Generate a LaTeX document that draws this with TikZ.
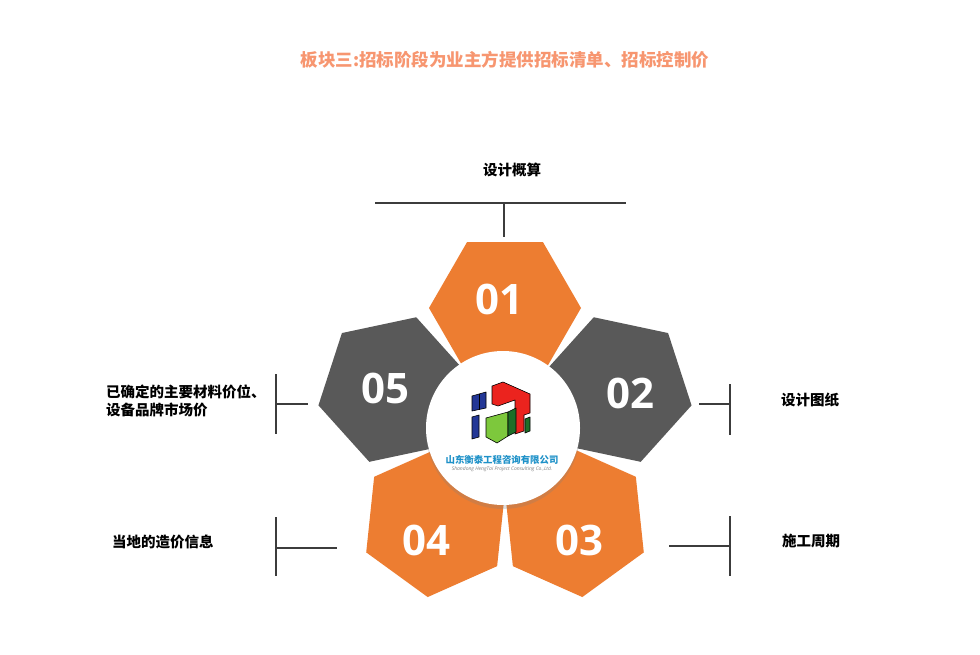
\documentclass[tikz,border=0pt]{standalone}
\usepackage{fontspec}
\usepackage{xcolor}
\usetikzlibrary{shadows}
\newfontfamily\cjk{Noto Sans CJK SC}
\newfontfamily\numfont{Open Sans}
\definecolor{hexorange}{RGB}{237,125,49}
\definecolor{hexgray}{RGB}{89,89,89}
\definecolor{titlecol}{RGB}{247,150,112}
\definecolor{brkcol}{RGB}{60,60,60}
\definecolor{logoblue}{RGB}{35,55,150}
\definecolor{logored}{RGB}{235,35,30}
\definecolor{logogreen}{RGB}{125,200,60}
\definecolor{logodark}{RGB}{30,110,40}
\definecolor{namecol}{RGB}{30,145,200}

\begin{document}
\begin{tikzpicture}[x=1pt, y=1pt,
    num/.style={text=white, inner sep=0pt, font=\numfont\bfseries\fontsize{42}{42}\selectfont},
    lbl/.style={inner sep=0pt, font=\cjk\bfseries\fontsize{14.5}{18}\selectfont},
    brk/.style={draw=brkcol, line width=2.2pt},
    logoline/.style={draw=black, line width=0.6pt, line join=round}]
  \useasboundingbox[fill=white] (0,0) rectangle (980,-655);

  \node[inner sep=0pt, text=titlecol, font=\cjk\bfseries\fontsize{17.5}{20}\selectfont] (title) at (505,-60) {板块三:招标阶段为业主方提供招标清单、招标控制价};

  % five hexagons round the hub
  \coordinate (hub) at (505,-426);
  \foreach \ang/\col in {90/hexorange, 18/hexgray, -54/hexorange, -126/hexorange, 162/hexgray}
    \fill[\col, shift={(hub)}, shift={(\ang:118)}, rotate=\ang-90]
      (0:76) -- (60:76) -- (120:76) -- (180:76) -- (240:76) -- (300:76) -- cycle;

  \node[num] (n1) at (499,-299) {01};
  \node[num] (n2) at (630,-393) {02};
  \node[num] (n3) at (579,-540) {03};
  \node[num] (n4) at (426,-540) {04};
  \node[num] (n5) at (385,-388) {05};

  % logo in the middle
  \node[circle, fill=white, minimum size=154pt, inner sep=0pt,
        drop shadow={shadow xshift=0pt, shadow yshift=-4pt, opacity=0.25}] (logo) at (503,-428) {};
  \filldraw[logoline, fill=logoblue] (472,-396) -- (486,-392) -- (486,-408) -- (472,-411) -- cycle;
  \draw[logoline] (479,-394) -- (479,-409.5);
  \filldraw[logoline, fill=logoblue] (472,-417) -- (479,-415) -- (479,-437) -- (472,-439) -- cycle;
  \filldraw[logoline, fill=logored] (492,-386) -- (503,-382) -- (530,-394) -- (530,-413) -- (524,-415)
    -- (524,-431) -- (515,-434) -- (515,-400) -- (498,-406) -- (492,-404) -- cycle;
  \filldraw[logoline, fill=logodark] (525,-419) -- (530,-417) -- (530,-431) -- (525,-433) -- cycle;
  \filldraw[logoline, fill=logogreen] (486,-418) -- (508,-412) -- (508,-436) -- (497,-443) -- (486,-437) -- cycle;
  \filldraw[logoline, fill=logodark] (508,-412) -- (516,-408) -- (516,-432) -- (508,-436) -- cycle;
  \node[inner sep=0pt, text=namecol, font=\cjk\bfseries\fontsize{9.4}{10}\selectfont] (cname) at (502,-460) {山东衡泰工程咨询有限公司};
  \node[inner sep=0pt, text=gray, font=\numfont\itshape\fontsize{5}{6}\selectfont] (ename) at (502,-469) {Shandong HengTai Project Consulting Co.,Ltd.};

  % labels and their brackets
  \node[lbl] (l1) at (512,-170) {设计概算};
  \node[lbl] (l2) at (810,-400) {设计图纸};
  \node[lbl] (l3) at (811,-541) {施工周期};
  \node[lbl, anchor=west] (l4) at (112,-542) {当地的造价信息};
  \node[lbl, anchor=west, align=left] (l5) at (106,-401) {已确定的主要材料价位、\\设备品牌市场价};

  \coordinate (b1a) at (375,-203); \coordinate (b1b) at (626,-203);
  \coordinate (b1m) at (504,-203); \coordinate (b1e) at (504,-237);
  \draw[brk] (b1a) -- (b1b);
  \draw[brk] (b1m) -- (b1e);

  \coordinate (b2a) at (730,-384); \coordinate (b2b) at (730,-435);
  \coordinate (b2m) at (730,-404); \coordinate (b2e) at (699,-404);
  \draw[brk] (b2a) -- (b2b);
  \draw[brk] (b2m) -- (b2e);

  \coordinate (b3a) at (730,-516); \coordinate (b3b) at (730,-576);
  \coordinate (b3m) at (730,-546); \coordinate (b3e) at (669,-546);
  \draw[brk] (b3a) -- (b3b);
  \draw[brk] (b3m) -- (b3e);

  \coordinate (b4a) at (276,-517); \coordinate (b4b) at (276,-576);
  \coordinate (b4m) at (276,-548); \coordinate (b4e) at (337,-548);
  \draw[brk] (b4a) -- (b4b);
  \draw[brk] (b4m) -- (b4e);

  \coordinate (b5a) at (276,-374); \coordinate (b5b) at (276,-434);
  \coordinate (b5m) at (276,-404); \coordinate (b5e) at (308,-404);
  \draw[brk] (b5a) -- (b5b);
  \draw[brk] (b5m) -- (b5e);
\end{tikzpicture}
\end{document}
